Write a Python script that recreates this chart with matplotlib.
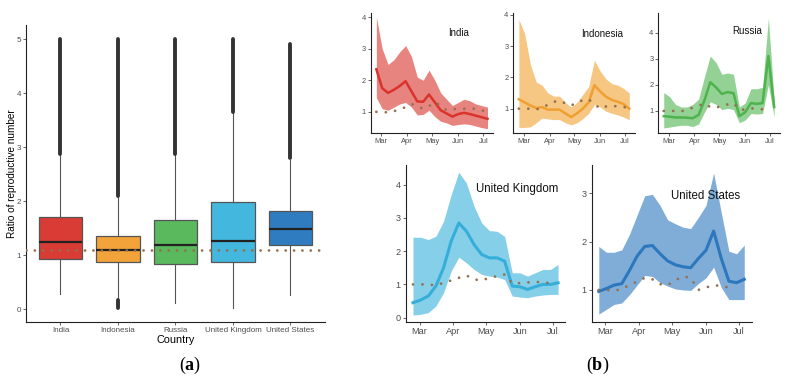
import numpy as np
import matplotlib.pyplot as plt
import matplotlib.dates as mdates

plt.rcParams['font.family'] = ['Liberation Sans', 'DejaVu Sans']
plt.rcParams['mathtext.fontset'] = 'custom'
plt.rcParams['mathtext.rm'] = 'Liberation Serif'
plt.rcParams['mathtext.bf'] = 'Liberation Serif:bold'

# ---- (a) box plot summary
countries = ['India', 'Indonesia', 'Russia', 'United Kingdom', 'United States']
box_colors = ['#D93B35', '#F2A33A', '#5AB95C', '#43B7DD', '#2F7CC0']
q1 = [0.93, 0.87, 0.83, 0.87, 1.18]
med = [1.24, 1.10, 1.18, 1.26, 1.48]
q3 = [1.70, 1.35, 1.645, 1.98, 1.82]
whis_lo = [0.28, 0.20, 0.11, 0.02, 0.26]
whis_hi = [2.85, 2.07, 2.85, 3.63, 2.77]
# outliers are so dense they look like solid bars: store their ranges
out_top_from = [2.87, 2.09, 2.87, 3.65, 2.79]
out_top_to = [5.0, 5.0, 5.0, 5.0, 4.9]
out_bot_from = [np.nan, 0.02, np.nan, np.nan, np.nan]
out_bot_to = [np.nan, 0.17, np.nan, np.nan, np.nan]
ref_a = 1.1

# ---- (b) weekly time series
weeks = ['2020-02-24', '2020-03-02', '2020-03-09', '2020-03-16', '2020-03-23',
         '2020-03-30', '2020-04-06', '2020-04-13', '2020-04-20', '2020-04-27',
         '2020-05-04', '2020-05-11', '2020-05-18', '2020-05-25', '2020-06-01',
         '2020-06-08', '2020-06-15', '2020-06-22', '2020-06-29', '2020-07-06']

india_mid = [2.35, 1.75, 1.6, 1.7, 1.82, 1.97, 1.65, 1.33, 1.32, 1.55,
             1.3, 1.05, 0.95, 0.85, 0.93, 0.97, 0.93, 0.88, 0.83, 0.78]
india_hi = [4.0, 3.0, 2.5, 2.65, 2.9, 3.1, 2.75, 2.1, 2.0, 2.32,
            2.0, 1.6, 1.4, 1.2, 1.3, 1.4, 1.35, 1.25, 1.2, 1.15]
india_lo = [1.45, 1.1, 1.05, 1.15, 1.25, 1.3, 1.15, 0.9, 0.92, 1.05,
            0.85, 0.7, 0.65, 0.57, 0.6, 0.62, 0.6, 0.55, 0.5, 0.47]
india_ref = [1.0, 1.0, 0.98, 1.02, 1.08, 1.15, 1.25, 1.17, 1.1, 1.18,
             1.3, 1.2, 1.05, 1.08, 1.1, 1.1, 1.1, 1.1, 1.05, 1.0]

indo_mid = [1.3, 1.2, 1.1, 1.02, 1.05, 0.97, 0.97, 0.97, 0.85, 0.73,
            0.85, 1.0, 1.2, 1.75, 1.55, 1.38, 1.28, 1.22, 1.15, 1.0]
indo_hi = [3.85, 3.4, 2.4, 1.85, 1.75, 1.5, 1.4, 1.4, 1.2, 1.05,
           1.2, 1.45, 1.7, 2.55, 2.2, 1.95, 1.8, 1.75, 1.65, 1.5]
indo_lo = [0.4, 0.4, 0.42, 0.55, 0.7, 0.67, 0.65, 0.65, 0.55, 0.48,
           0.55, 0.68, 0.85, 1.13, 1.05, 0.92, 0.85, 0.8, 0.73, 0.65]
indo_ref = [1.0, 1.0, 1.0, 0.97, 1.05, 1.12, 1.22, 1.25, 1.17, 1.1,
            1.2, 1.27, 1.3, 1.15, 1.0, 1.07, 1.08, 1.08, 1.06, 1.0]

russia_mid = [0.8, 0.78, 0.75, 0.75, 0.74, 0.72, 0.85, 1.4, 2.1, 1.9,
              1.65, 1.72, 1.68, 0.8, 0.95, 1.3, 1.27, 1.3, 3.1, 1.15]
russia_hi = [1.7, 1.55, 1.25, 1.15, 1.15, 1.25, 1.45, 2.3, 3.1, 2.85,
             2.4, 2.45, 2.4, 1.15, 1.3, 1.85, 1.85, 1.9, 4.55, 1.4]
russia_lo = [0.35, 0.38, 0.42, 0.45, 0.45, 0.4, 0.5, 0.95, 1.35, 1.25,
             1.05, 1.1, 1.05, 0.55, 0.65, 0.9, 0.88, 0.9, 2.0, 0.75]
russia_ref = [1.0, 1.0, 1.0, 0.98, 1.06, 1.12, 1.2, 1.28, 1.15, 1.12,
              1.2, 1.25, 1.3, 1.05, 1.05, 1.1, 1.08, 1.06, 1.05, np.nan]

uk_mid = [0.45, 0.53, 0.65, 0.95, 1.5, 2.3, 2.85, 2.6, 2.2, 1.9,
          1.8, 1.8, 1.7, 0.95, 0.93, 0.85, 0.93, 1.0, 1.0, 1.05]
uk_hi = [2.42, 2.42, 2.35, 2.45, 2.9, 3.7, 4.38, 4.05, 3.35, 2.85,
         2.62, 2.6, 2.45, 1.35, 1.35, 1.25, 1.35, 1.45, 1.45, 1.6]
uk_lo = [0.08, 0.1, 0.15, 0.35, 0.75, 1.4, 1.82, 1.65, 1.45, 1.3,
         1.25, 1.22, 1.15, 0.65, 0.62, 0.6, 0.65, 0.68, 0.7, 0.7]
uk_ref = [1.0, 1.0, 1.0, 0.97, 1.05, 1.12, 1.2, 1.27, 1.15, 1.12,
          1.2, 1.25, 1.3, 1.03, 1.04, 1.06, 1.08, 1.06, 1.04, np.nan]

us_mid = [0.97, 1.03, 1.1, 1.13, 1.4, 1.7, 1.9, 1.92, 1.75, 1.6,
          1.52, 1.48, 1.46, 1.65, 1.82, 2.22, 1.65, 1.18, 1.15, 1.22]
us_hi = [1.9, 1.78, 1.78, 1.83, 2.15, 2.55, 2.95, 2.98, 2.75, 2.45,
         2.37, 2.3, 2.27, 2.5, 2.75, 3.42, 2.6, 1.8, 1.75, 1.93]
us_lo = [0.5, 0.6, 0.7, 0.73, 0.9, 1.1, 1.3, 1.28, 1.15, 1.08,
         1.02, 1.0, 0.99, 1.13, 1.25, 1.47, 1.05, 0.8, 0.8, 0.8]
us_ref = [1.0, 1.0, 0.98, 1.02, 1.1, 1.17, 1.25, 1.22, 1.12, 1.1,
          1.2, 1.28, 1.25, 1.0, 1.05, 1.1, 1.08, 1.05, np.nan, np.nan]

ref_color = '#93704F'
tick_gray = '#4D4D4D'

fig = plt.figure(figsize=(7.94, 3.84), dpi=100)


def style_axes(ax, fs):
    for s in ['top', 'right']:
        ax.spines[s].set_visible(False)
    for s in ['left', 'bottom']:
        ax.spines[s].set_linewidth(0.8)
        ax.spines[s].set_color('#222222')
    ax.tick_params(labelsize=fs, colors=tick_gray, length=2, width=0.6, pad=1.5)


# ---------- panel (a)
axa = fig.add_axes([0.0327, 0.1615, 0.3766, 0.7735])
pos = np.arange(1, len(countries) + 1)
stats = []
for i in range(len(countries)):
    stats.append(dict(med=med[i], q1=q1[i], q3=q3[i], whislo=whis_lo[i],
                      whishi=whis_hi[i], fliers=[]))
bp = axa.bxp(stats, positions=pos, widths=0.75, patch_artist=True, showcaps=False,
             boxprops=dict(edgecolor='#555555', linewidth=0.9),
             medianprops=dict(color='#222222', linewidth=1.6),
             whiskerprops=dict(color='#555555', linewidth=0.8))
for patch, c in zip(bp['boxes'], box_colors):
    patch.set_facecolor(c)
axa.vlines(pos, out_top_from, out_top_to, color='#333333', linewidth=2.8,
           capstyle='round', zorder=3)
axa.vlines(pos, out_bot_from, out_bot_to, color='#333333', linewidth=2.8,
           capstyle='round', zorder=3)
axa.axhline(ref_a, color=ref_color, linewidth=2.0, linestyle=(0, (0.01, 3.0)),
            dash_capstyle='round', zorder=4)
axa.set_xlim(0.4, 5.6)
axa.set_ylim(-0.235, 5.26)
axa.set_yticks([0, 1, 2, 3, 4, 5])
axa.set_xticks(pos)
axa.set_xticklabels(countries)
style_axes(axa, 5.8)
axa.set_ylabel('Ratio of reproductive number', fontsize=7.2, labelpad=0)
axa.set_xlabel('Country', fontsize=7.8, labelpad=1)

# ---------- panel (b)
dates = np.array(weeks, dtype='datetime64[D]')


def ts_panel(rect, mid, lo, hi, ref, color, title, ylim, yticks, fs, title_fs,
             title_xy, lw):
    ax = fig.add_axes(rect)
    ax.fill_between(dates, lo, hi, color=color, alpha=0.6, linewidth=0)
    ax.plot(dates, mid, color=color, linewidth=lw, solid_joinstyle='round')
    ax.plot(dates, ref, color=ref_color, linewidth=2.0,
            linestyle=(0, (0.01, 3.4)), dash_capstyle='round')
    ax.margins(x=0.05)
    ax.set_ylim(*ylim)
    ax.set_yticks(yticks)
    ax.xaxis.set_major_locator(mdates.MonthLocator(bymonth=[3, 4, 5, 6, 7]))
    ax.xaxis.set_major_formatter(mdates.DateFormatter('%b'))
    style_axes(ax, fs)
    ax.text(title_xy[0], title_xy[1], title, transform=ax.transAxes,
            ha='center', va='center', fontsize=title_fs, color='#111111')
    return ax


ts_panel([0.467, 0.654, 0.154, 0.313], india_mid, india_lo, india_hi, india_ref,
         '#D9332C', 'India', (0.335, 4.14), [1, 2, 3, 4], 5.4, 7, (0.72, 0.83), 1.8)
ts_panel([0.6465, 0.654, 0.153, 0.313], indo_mid, indo_lo, indo_hi, indo_ref,
         '#F0A030', 'Indonesia', (0.226, 4.07), [1, 2, 3, 4], 5.4, 7, (0.73, 0.82), 1.8)
ts_panel([0.829, 0.654, 0.153, 0.313], russia_mid, russia_lo, russia_hi, russia_ref,
         '#4DB34D', 'Russia', (0.16, 4.76), [1, 2, 3, 4], 5.4, 7, (0.73, 0.85), 1.8)
ts_panel([0.511, 0.1607, 0.201, 0.41], uk_mid, uk_lo, uk_hi, uk_ref,
         '#35AFDA', 'United Kingdom', (-0.14, 4.6), [0, 1, 2, 3, 4], 6.6, 8.3,
         (0.70, 0.845), 2.2)
ts_panel([0.745, 0.1607, 0.2015, 0.41], us_mid, us_lo, us_hi, us_ref,
         '#2C77BD', 'United States', (0.33, 3.59), [1, 2, 3], 6.6, 8.3,
         (0.71, 0.80), 2.2)

fig.text(190 / 794, 1 - 365 / 384, r'($\mathbf{a}$)', fontsize=13,
         family='Liberation Serif', ha='center', va='center')
fig.text(598 / 794, 1 - 365 / 384, r'($\mathbf{b}$)', fontsize=13,
         family='Liberation Serif', ha='center', va='center')

fig.savefig('out.png', dpi=100)
